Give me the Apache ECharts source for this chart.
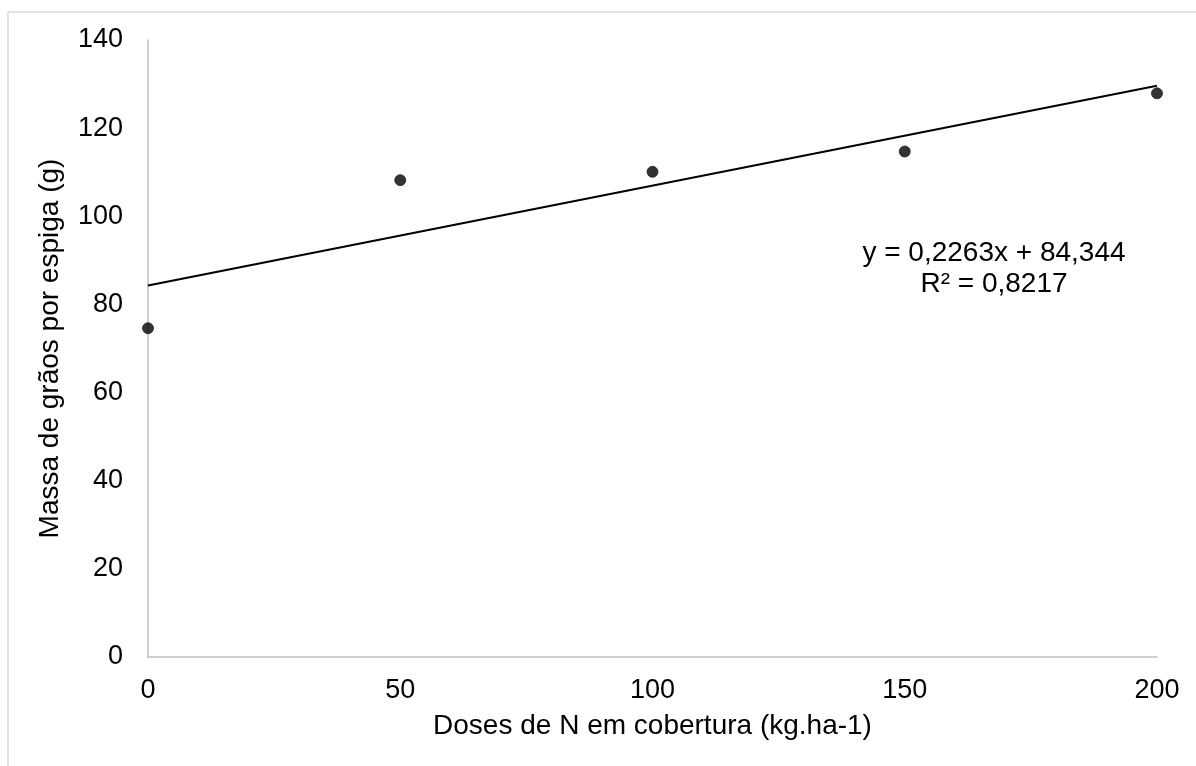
<!DOCTYPE html>
<html>
<head>
<meta charset="utf-8">
<script src="https://cdn.jsdelivr.net/npm/echarts@6/dist/echarts.min.js"></script>
<style>
  html, body { margin: 0; padding: 0; background: #fff; }
  #main { width: 1196px; height: 766px; }
</style>
</head>
<body>
<div id="main"></div>
<script>
// doses de N (kg/ha) e massa de grãos por espiga (g)
var doses = [0, 50, 100, 150, 200];
var massa = [74.6, 108.2, 110.1, 114.7, 127.9];

// linha de tendência (extremos)
var trendX = [0, 200];
var trendY = [84.3, 129.6];

var eqLine1 = 'y = 0,2263x + 84,344';
var eqLine2 = 'R² = 0,8217';

var chart = echarts.init(document.getElementById('main'));

var font = 'Liberation Sans, Arial, sans-serif';

var option = {
  backgroundColor: '#fff',
  animation: false,
  grid: { left: 148, right: 39, top: 40, bottom: 109 },
  graphic: [
    // moldura do gráfico (só topo e esquerda aparecem)
    { type: 'line', shape: { x1: 8, y1: 12, x2: 1196, y2: 12 }, style: { stroke: '#d9d9d9', lineWidth: 1.5 } },
    { type: 'line', shape: { x1: 8, y1: 12, x2: 8, y2: 766 }, style: { stroke: '#d9d9d9', lineWidth: 1.5 } },
    {
      type: 'text', x: 994, y: 253,
      style: { text: eqLine1, align: 'center', verticalAlign: 'middle', font: '28px ' + font, fill: '#000' }
    },
    {
      type: 'text', x: 994, y: 284,
      style: { text: eqLine2, align: 'center', verticalAlign: 'middle', font: '28px ' + font, fill: '#000' }
    }
  ],
  xAxis: {
    type: 'value',
    min: 0, max: 200, interval: 50,
    name: 'Doses de N em cobertura (kg.ha-1)',
    nameLocation: 'middle',
    nameGap: 55,
    nameTextStyle: { fontFamily: font, fontSize: 28, color: '#000' },
    axisLine: { show: true, lineStyle: { color: '#bfbfbf', width: 1.5 } },
    axisTick: { show: false },
    splitLine: { show: false },
    axisLabel: { fontFamily: font, fontSize: 27, color: '#000', margin: 20 }
  },
  yAxis: {
    type: 'value',
    min: 0, max: 140, interval: 20,
    name: 'Massa de grãos por espiga (g)',
    nameLocation: 'middle',
    nameGap: 84,
    nameTextStyle: { fontFamily: font, fontSize: 28, color: '#000' },
    axisLine: { show: true, lineStyle: { color: '#bfbfbf', width: 1.5 } },
    axisTick: { show: false },
    splitLine: { show: false },
    axisLabel: { fontFamily: font, fontSize: 27, color: '#000', margin: 25 }
  },
  series: [
    {
      type: 'line',
      data: trendX.map(function (x, i) { return [x, trendY[i]]; }),
      symbol: 'none',
      lineStyle: { color: '#000', width: 2 },
      z: 2
    },
    {
      type: 'scatter',
      data: doses.map(function (d, i) { return [d, massa[i]]; }),
      symbolSize: 11,
      itemStyle: { color: '#000', borderColor: '#222', borderWidth: 1 },
      z: 3
    }
  ]
};

chart.setOption(option);
</script>
</body>
</html>
